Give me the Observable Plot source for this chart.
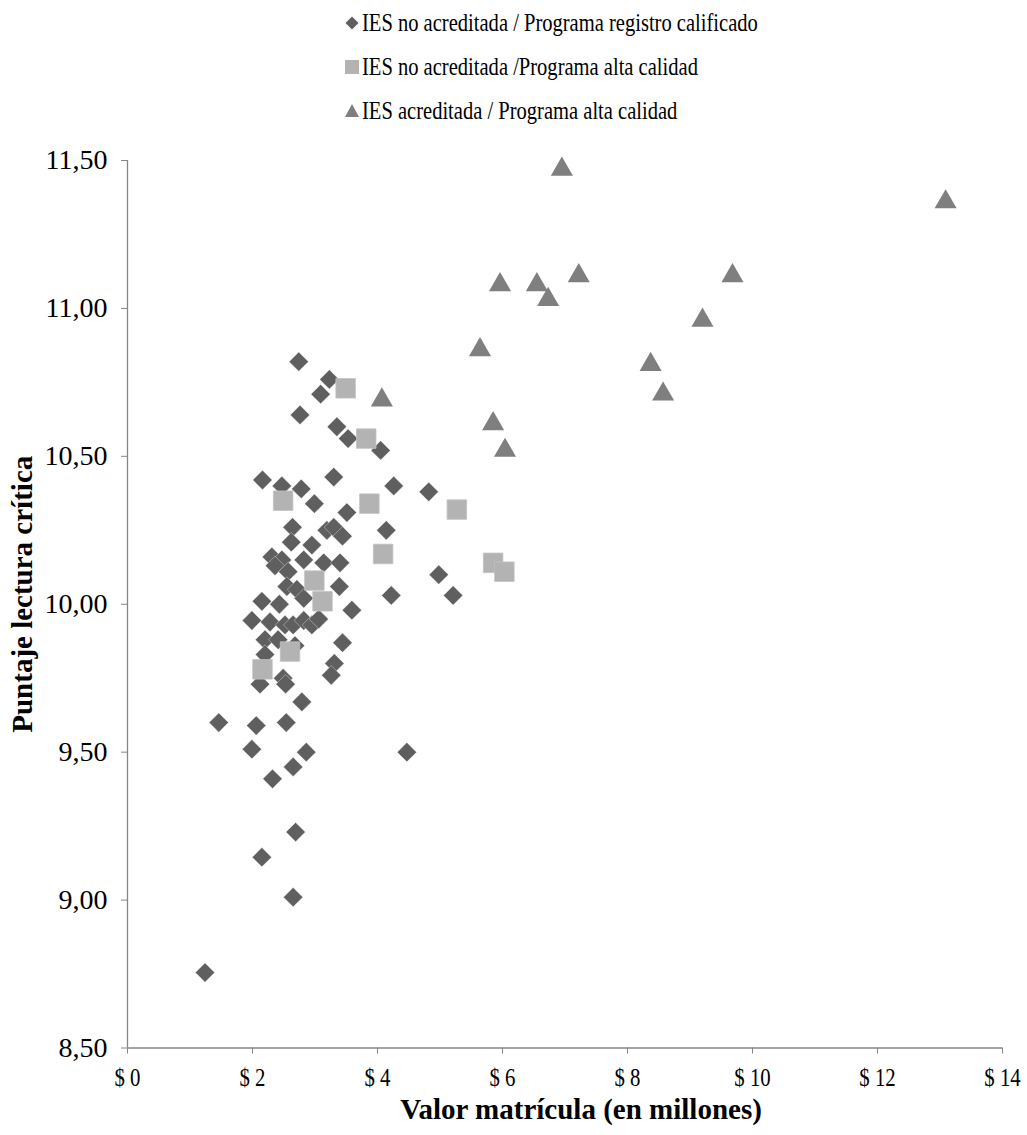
<!DOCTYPE html>
<html>
<head>
<meta charset="utf-8">
<script src="https://cdn.jsdelivr.net/npm/d3@7"></script>
<script src="https://cdn.jsdelivr.net/npm/@observablehq/plot@0.6"></script>
<style>
  body { margin: 0; background: #fff; font-family: "Liberation Serif", "Times New Roman", serif; }
  #legend { position: relative; width: 1027px; height: 130px; }
  .item { position: absolute; left: 344px; height: 30px; display: flex; align-items: center; }
  .item svg { flex: none; }
  .item span { display: inline-block; font-size: 26px; color: #000; transform: scaleX(0.79); transform-origin: left center; white-space: nowrap; margin-left: 2px; }
</style>
</head>
<body>
<div id="legend"></div>
<div id="chart"></div>
<script>
// Series names
const seriesNames = [
  "IES no acreditada / Programa registro calificado",
  "IES no acreditada /Programa alta calidad",
  "IES acreditada / Programa alta calidad"
];
const seriesColors = ["#5f5f5f", "#b3b3b3", "#7f7f7f"];

// IES no acreditada / Programa registro calificado
const registroMatricula = [
  2.74, 3.23, 3.09, 2.76, 3.35, 3.53, 4.05, 2.16, 2.47, 2.78,
  3.30, 2.99, 4.26, 4.82, 3.51, 4.14, 2.64, 3.19, 3.30, 3.44,
  2.62, 2.95, 2.31, 2.47, 2.36, 2.57, 2.82, 3.14, 3.40, 4.98,
  2.55, 2.71, 2.82, 3.39, 4.22, 5.21, 2.15, 2.43, 3.59, 1.99,
  2.28, 2.52, 2.65, 2.82, 2.95, 3.06, 2.20, 2.41, 2.68, 2.20,
  3.44, 3.31, 3.26, 2.12, 2.49, 2.53, 2.79, 1.46, 2.06, 2.54,
  1.99, 2.86, 4.47, 2.65, 2.32, 2.69, 2.15, 2.65, 1.24
];
const registroPuntaje = [
  10.82, 10.76, 10.71, 10.64, 10.60, 10.56, 10.52, 10.42, 10.40, 10.39,
  10.43, 10.34, 10.40, 10.38, 10.31, 10.25, 10.26, 10.25, 10.26, 10.23,
  10.21, 10.20, 10.16, 10.15, 10.13, 10.11, 10.15, 10.14, 10.14, 10.10,
  10.06, 10.05, 10.02, 10.06, 10.03, 10.03, 10.01, 10.00, 9.98, 9.945,
  9.94, 9.93, 9.93, 9.945, 9.93, 9.95, 9.88, 9.88, 9.86, 9.83,
  9.87, 9.80, 9.76, 9.73, 9.75, 9.73, 9.67, 9.60, 9.59, 9.60,
  9.51, 9.50, 9.50, 9.45, 9.41, 9.23, 9.145, 9.01, 8.755
];

// IES no acreditada / Programa alta calidad
const altaNoAcredMatricula = [3.49, 3.82, 2.49, 3.87, 5.27, 4.09, 5.85, 6.03, 2.99, 3.12, 2.60, 2.16];
const altaNoAcredPuntaje   = [10.73, 10.56, 10.35, 10.34, 10.32, 10.17, 10.14, 10.11, 10.08, 10.01, 9.84, 9.78];

// IES acreditada / Programa alta calidad
const altaAcredMatricula = [6.95, 13.09, 5.96, 6.55, 7.22, 6.73, 9.68, 9.20, 5.64, 8.37, 8.57, 4.07, 5.85, 6.04];
const altaAcredPuntaje   = [11.47, 11.36, 11.08, 11.08, 11.11, 11.03, 11.11, 10.96, 10.86, 10.81, 10.71, 10.69, 10.61, 10.52];

// Axis ticks
const xTicks = [0, 2, 4, 6, 8, 10, 12, 14];
const yTicks = [8.5, 9, 9.5, 10, 10.5, 11, 11.5];

const zip = (xs, ys) => xs.map((x, i) => ({matricula: x, puntaje: ys[i]}));
const registro = zip(registroMatricula, registroPuntaje);
const altaNoAcred = zip(altaNoAcredMatricula, altaNoAcredPuntaje);
const altaAcred = zip(altaAcredMatricula, altaAcredPuntaje);

// Legend above the plot
const legendSymbols = [
  `<svg width="16" height="16" viewBox="-8 -8 16 16"><path d="M0,-6.5L6.5,0L0,6.5L-6.5,0Z" fill="${seriesColors[0]}"/></svg>`,
  `<svg width="16" height="16" viewBox="-8 -8 16 16"><rect x="-7" y="-7" width="14" height="14" fill="${seriesColors[1]}"/></svg>`,
  `<svg width="16" height="16" viewBox="-8 -8 16 16"><path d="M0,-7L7,6L-7,6Z" fill="${seriesColors[2]}"/></svg>`
];
const legendTops = [8, 52, 96];
const legend = document.getElementById("legend");
seriesNames.forEach((name, i) => {
  const div = document.createElement("div");
  div.className = "item";
  div.style.top = legendTops[i] + "px";
  div.innerHTML = legendSymbols[i];
  const span = document.createElement("span");
  span.textContent = name;
  div.appendChild(span);
  legend.appendChild(div);
});

const axisColor = "#868686";
const fmtY = d => d.toFixed(2).replace(".", ",");
const fmtX = d => "$ " + d;

const chart = Plot.plot({
  width: 1027,
  height: 1005,
  marginLeft: 127,
  marginRight: 25,
  marginTop: 30,
  marginBottom: 87.5,
  style: {fontFamily: "Liberation Serif, Times New Roman, serif", fontSize: "26px", color: "#000", background: "#fff"},
  x: {domain: [0, 14]},
  y: {domain: [8.5, 11.5]},
  marks: [
    Plot.axisX({ticks: xTicks, tickFormat: fmtX, tickSize: 6, tickPadding: 14, stroke: axisColor, fill: "#000", fontSize: 26, label: null}),
    Plot.axisY({ticks: yTicks, tickFormat: fmtY, tickSize: 6, tickPadding: 14, stroke: axisColor, fill: "#000", fontSize: 28, label: null}),
    Plot.ruleX([0], {stroke: axisColor, strokeWidth: 1.3}),
    Plot.ruleY([8.5], {stroke: axisColor, strokeWidth: 1.3}),
    Plot.dot(registro, {x: "matricula", y: "puntaje", symbol: "diamond2", r: 8.7, fill: seriesColors[0], stroke: "#ffffff", strokeWidth: 0.6, strokeOpacity: 0.6}),
    Plot.dot(altaNoAcred, {x: "matricula", y: "puntaje", symbol: "square", r: 11, fill: seriesColors[1], stroke: "#c2c2c2", strokeWidth: 0.8}),
    Plot.dot(altaAcred, {x: "matricula", y: "puntaje", symbol: "triangle", r: 8.2, fill: seriesColors[2]}),
    Plot.text(["Valor matrícula (en millones)"], {frameAnchor: "bottom", lineAnchor: "middle", textAnchor: "middle", dx: 16, dy: 62, fontSize: 29, fontWeight: "bold", fill: "#000"}),
    Plot.text(["Puntaje lectura crítica"], {frameAnchor: "left", lineAnchor: "middle", textAnchor: "middle", rotate: -90, dx: -105, dy: -10, fontSize: 29, fontWeight: "bold", fill: "#000"})
  ]
});

// Narrow the x tick labels
d3.select(chart).selectAll('g[aria-label="x-axis tick label"] text')
  .attr("transform", function () { return (this.getAttribute("transform") || "") + " scale(0.8,1)"; });

document.getElementById("chart").appendChild(chart);
</script>
</body>
</html>
